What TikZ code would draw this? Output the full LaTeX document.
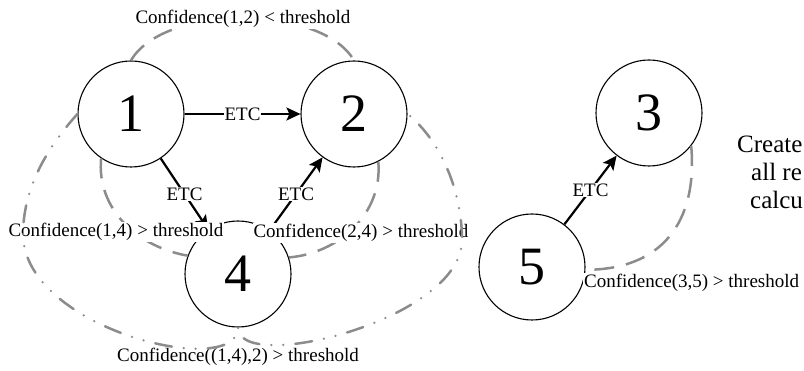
\documentclass[tikz,border=0pt]{standalone}
\usepackage{fontspec}
\setmainfont{Liberation Serif}
\usetikzlibrary{arrows.meta}
\begin{document}
\begin{tikzpicture}[x=1pt,y=-1pt,
  state/.style={circle,draw,line width=1.1pt,minimum size=106pt,inner sep=0pt,font=\fontsize{54}{54}\selectfont},
  etc/.style={line width=2.2pt,-{Stealth[length=14pt,width=13pt,inset=3pt]}},
  etclab/.style={fill=white,inner sep=1pt,font=\fontsize{19}{19}\selectfont},
  conf/.style={fill=white,inner sep=1pt,font=\fontsize{19}{19}\selectfont},
  gdash/.style={draw=black!45,line width=2.5pt,dash pattern=on 20pt off 12pt},
  gdashdot/.style={draw=black!45,line width=2.5pt,line cap=round,dash pattern=on 17pt off 12pt on 0pt off 12pt on 0pt off 12pt},
  side/.style={anchor=base west,inner sep=0pt,font=\fontsize{25}{25}\selectfont}
]
\useasboundingbox (0,0) rectangle (804,371);
\clip (0,0) rectangle (804,371);

% states
\node[state] (n1) at (131,114) {1};
\node[state] (n2) at (354,114) {2};
\node[state] (n3) at (649,113) {3};
\node[state] (n4) at (238,274) {4};
\node[state] (n5) at (532,267) {5};

% ETC edges
\draw[etc] (n1) -- node[etclab] (e12) {ETC} (n2);
\draw[etc] (n1) -- node[etclab] (e14) {ETC} (n4);
\draw[etc] (n4) -- node[etclab] (e42) {ETC} (n2);
\draw[etc] (n5) -- node[etclab] (e53) {ETC} (n3);

% dashed confidence curves
\draw[gdash] (n1.north) to[out=60,in=120,looseness=0.75] (n2.north);
\draw[gdash] (n1.236) to[out=-95,in=170] (n4.160);
\draw[gdash] (n2.-63) to[out=-85,in=5] (n4.18);
\draw[gdash] (n3.-38) to[out=-85,in=0,looseness=1.2] (n5.-3);

% labels
\node[conf] (c12) at (243,19) {Confidence(1,2) < threshold};
\node[conf] (c14) at (116,232) {Confidence(1,4) > threshold};
\node[conf] (c24) at (361,233) {Confidence(2,4) > threshold};
\node[conf,anchor=west] (c35) at (583,283) {Confidence(3,5) > threshold};
\node[conf] (c142) at (238,357) {Confidence((1,4),2) > threshold};

% dash-dot curve 1 -> 4 -> 2
\coordinate (lft) at (23,235);
\coordinate (rgt) at (462,240);
\draw[gdashdot] (n1.west) .. controls (45,150) and (23,190) .. (lft)
  .. controls (25,330) and (238,380) .. (n4.south)
  .. controls (238,375) and (462,320) .. (rgt)
  .. controls (462,190) and (440,140) .. (n2.east);

% side text
\node[side] (t1) at (737,153) {Create};
\node[side] (t2) at (751,181) {all re};
\node[side] (t3) at (750,209) {calcu};
\end{tikzpicture}
\end{document}
